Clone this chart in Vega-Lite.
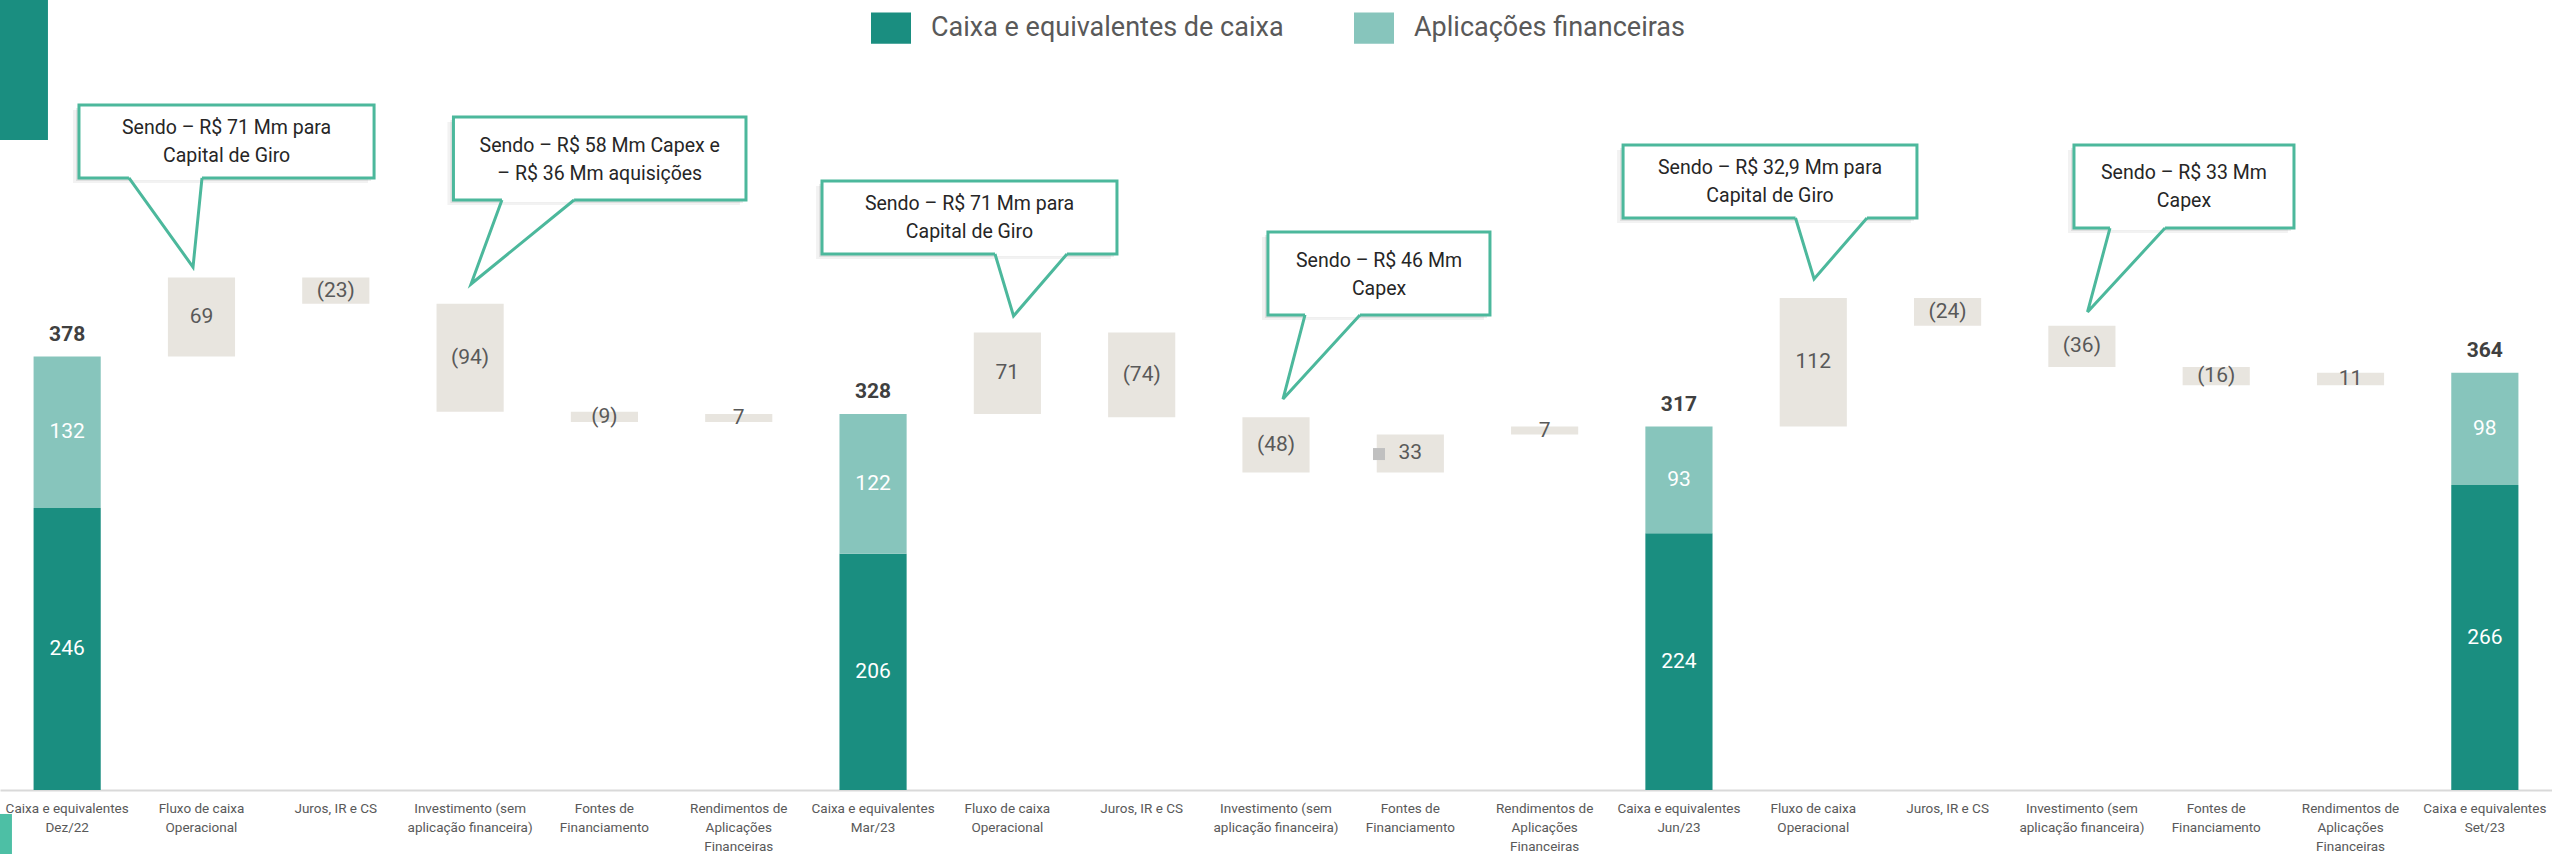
{
  "$schema": "https://vega.github.io/schema/vega-lite/v6.json",
  "width": 2552,
  "height": 790,
  "padding": 0,
  "background": "white",
  "config": {"view": {"stroke": null}, "font": "Roboto", "axisY": {"disable": true}},
  "datasets": {
    "steps": [
      {"i": 1, "k": "t", "lo": 0, "hi": 378, "v": 378},
      {"i": 2, "k": "d", "lo": 378, "hi": 447, "v": 69},
      {"i": 3, "k": "d", "lo": 424, "hi": 447, "v": -23},
      {"i": 4, "k": "d", "lo": 330, "hi": 424, "v": -94},
      {"i": 5, "k": "d", "lo": 321, "hi": 330, "v": -9},
      {"i": 6, "k": "d", "lo": 321, "hi": 328, "v": 7},
      {"i": 7, "k": "t", "lo": 0, "hi": 328, "v": 328},
      {"i": 8, "k": "d", "lo": 328, "hi": 399, "v": 71},
      {"i": 9, "k": "d", "lo": 325, "hi": 399, "v": -74},
      {"i": 10, "k": "d", "lo": 277, "hi": 325, "v": -48},
      {"i": 11, "k": "d", "lo": 277, "hi": 310, "v": 33},
      {"i": 12, "k": "d", "lo": 310, "hi": 317, "v": 7},
      {"i": 13, "k": "t", "lo": 0, "hi": 317, "v": 317},
      {"i": 14, "k": "d", "lo": 317, "hi": 429, "v": 112},
      {"i": 15, "k": "d", "lo": 405, "hi": 429, "v": -24},
      {"i": 16, "k": "d", "lo": 369, "hi": 405, "v": -36},
      {"i": 17, "k": "d", "lo": 353, "hi": 369, "v": -16},
      {"i": 18, "k": "d", "lo": 353, "hi": 364, "v": 11},
      {"i": 19, "k": "t", "lo": 0, "hi": 364, "v": 364}
    ],
    "segs": [
      {"i": 1, "s": "Caixa e equivalentes de caixa", "lo": 0, "hi": 246, "v": 246},
      {"i": 1, "s": "Aplicações financeiras", "lo": 246, "hi": 378, "v": 132},
      {"i": 7, "s": "Caixa e equivalentes de caixa", "lo": 0, "hi": 206, "v": 206},
      {"i": 7, "s": "Aplicações financeiras", "lo": 206, "hi": 328, "v": 122},
      {"i": 13, "s": "Caixa e equivalentes de caixa", "lo": 0, "hi": 224, "v": 224},
      {"i": 13, "s": "Aplicações financeiras", "lo": 224, "hi": 317, "v": 93},
      {"i": 19, "s": "Caixa e equivalentes de caixa", "lo": 0, "hi": 266, "v": 266},
      {"i": 19, "s": "Aplicações financeiras", "lo": 266, "hi": 364, "v": 98}
    ],
    "callouts": [
      {"id": 1, "x1": 0.588, "x2": 2.785, "yt": 597.4, "yb": 533.8, "bx1": 0.96, "bx2": 1.504, "tx": 1.687, "ty": 565, "txt": ["Sendo – R$ 71 Mm para", "Capital de Giro"]},
      {"id": 2, "x1": 3.376, "x2": 5.554, "yt": 587.0, "yb": 514.6, "bx1": 3.737, "bx2": 4.274, "tx": 4.465, "ty": 549.7, "txt": ["Sendo – R$ 58 Mm Capex e", "– R$ 36 Mm aquisições"]},
      {"id": 3, "x1": 6.12, "x2": 8.316, "yt": 531.1, "yb": 467.5, "bx1": 7.408, "bx2": 7.944, "tx": 7.218, "ty": 498.5, "txt": ["Sendo – R$ 71 Mm para", "Capital de Giro"]},
      {"id": 4, "x1": 9.44, "x2": 11.093, "yt": 486.7, "yb": 414.3, "bx1": 9.716, "bx2": 10.125, "tx": 10.267, "ty": 449.5, "txt": ["Sendo – R$ 46 Mm", "Capex"]},
      {"id": 5, "x1": 12.084, "x2": 14.272, "yt": 562.5, "yb": 498.9, "bx1": 13.368, "bx2": 13.9, "tx": 13.178, "ty": 530, "txt": ["Sendo – R$ 32,9 Mm para", "Capital de Giro"]},
      {"id": 6, "x1": 15.441, "x2": 17.079, "yt": 562.5, "yb": 490.1, "bx1": 15.709, "bx2": 16.119, "tx": 16.26, "ty": 525.8, "txt": ["Sendo – R$ 33 Mm", "Capex"]}
    ],
    "pointers": [
      {"id": 1, "o": 1, "px": 0.96, "py": 533.8}, {"id": 1, "o": 2, "px": 1.437, "py": 456.1}, {"id": 1, "o": 3, "px": 1.504, "py": 533.8},
      {"id": 2, "o": 1, "px": 3.737, "py": 514.6}, {"id": 2, "o": 2, "px": 3.507, "py": 441.3}, {"id": 2, "o": 3, "px": 4.274, "py": 514.6},
      {"id": 3, "o": 1, "px": 7.408, "py": 467.5}, {"id": 3, "o": 2, "px": 7.546, "py": 413.4}, {"id": 3, "o": 3, "px": 7.944, "py": 467.5},
      {"id": 4, "o": 1, "px": 9.716, "py": 414.3}, {"id": 4, "o": 2, "px": 9.552, "py": 341.0}, {"id": 4, "o": 3, "px": 10.125, "py": 414.3},
      {"id": 5, "o": 1, "px": 13.368, "py": 498.9}, {"id": 5, "o": 2, "px": 13.506, "py": 445.7}, {"id": 5, "o": 3, "px": 13.9, "py": 498.9},
      {"id": 6, "o": 1, "px": 15.709, "py": 490.1}, {"id": 6, "o": 2, "px": 15.542, "py": 416.9}, {"id": 6, "o": 3, "px": 16.119, "py": 490.1}
    ],
    "deco": [
      {"part": "top", "x1": 0, "x2": 0.357, "y1": 689, "y2": 567},
      {"part": "bottom", "x1": 0, "x2": 0.089, "y1": -20.9, "y2": -56}
    ],
    "marker": [{"mx": 10.267, "my": 293.0}]
  },
  "layer": [
    {
      "encoding": {
        "x": {
          "field": "i", "type": "ordinal",
          "scale": {"domain": [1,2,3,4,5,6,7,8,9,10,11,12,13,14,15,16,17,18,19], "paddingInner": 0.5, "paddingOuter": 0.25},
          "axis": {
            "title": null, "domainColor": "#d9d9d9", "domainWidth": 2, "ticks": false, "labelAngle": 0,
            "labelFont": "Roboto", "labelFontSize": 13.5, "labelColor": "#595959",
            "labelPadding": 11, "labelBaseline": "top", "labelLineHeight": 19, "labelLimit": 300, "labelOverlap": false, "labelBound": false, "labelFlush": false,
            "labelExpr": "[['Caixa e equivalentes','Dez/22'],['Fluxo de caixa','Operacional'],['Juros, IR e CS'],['Investimento (sem','aplicação financeira)'],['Fontes de','Financiamento'],['Rendimentos de','Aplicações','Financeiras'],['Caixa e equivalentes','Mar/23'],['Fluxo de caixa','Operacional'],['Juros, IR e CS'],['Investimento (sem','aplicação financeira)'],['Fontes de','Financiamento'],['Rendimentos de','Aplicações','Financeiras'],['Caixa e equivalentes','Jun/23'],['Fluxo de caixa','Operacional'],['Juros, IR e CS'],['Investimento (sem','aplicação financeira)'],['Fontes de','Financiamento'],['Rendimentos de','Aplicações','Financeiras'],['Caixa e equivalentes','Set/23']][toNumber(datum.value)-1]"
          }
        }
      },
      "layer": [
        {
          "data": {"name": "steps"},
          "transform": [{"filter": "datum.k == 'd'"}],
          "mark": {"type": "bar", "color": "#e8e5df"},
          "encoding": {
            "y": {"field": "lo", "type": "quantitative", "scale": {"domain": [0, 689], "nice": false, "zero": true}},
            "y2": {"field": "hi"}
          }
        },
        {
          "data": {"name": "segs"},
          "mark": {"type": "bar"},
          "encoding": {
            "y": {"field": "lo", "type": "quantitative"},
            "y2": {"field": "hi"},
            "color": {
              "field": "s", "type": "nominal",
              "scale": {"domain": ["Caixa e equivalentes de caixa", "Aplicações financeiras"], "range": ["#1a8e80", "#87c5bc"]},
              "legend": {
                "title": null, "orient": "none", "legendX": 871, "legendY": 8, "direction": "horizontal",
                "labelFont": "Roboto", "labelFontSize": 27, "labelColor": "#595959", "labelOffset": 20,
                "symbolType": "M-1,-0.78H1V0.78H-1Z", "symbolSize": 1600, "symbolStrokeWidth": 0, "symbolOpacity": 1,
                "columnPadding": 70, "padding": 0, "labelLimit": 600
              }
            }
          }
        },
        {
          "data": {"name": "steps"},
          "transform": [{"filter": "datum.k == 'd'"}, {"calculate": "(datum.lo + datum.hi) / 2", "as": "mid"}],
          "mark": {"type": "text", "font": "Roboto", "fontSize": 21, "color": "#595959", "baseline": "middle", "align": "center"},
          "encoding": {
            "y": {"field": "mid", "type": "quantitative"},
            "text": {"field": "v", "type": "quantitative", "format": "(.0f"}
          }
        },
        {
          "data": {"name": "segs"},
          "transform": [{"calculate": "(datum.lo + datum.hi) / 2", "as": "mid"}],
          "mark": {"type": "text", "font": "Roboto", "fontSize": 21, "color": "white", "baseline": "middle", "align": "center"},
          "encoding": {
            "y": {"field": "mid", "type": "quantitative"},
            "text": {"field": "v", "type": "quantitative", "format": ".0f"}
          }
        },
        {
          "data": {"name": "steps"},
          "transform": [{"filter": "datum.k == 't'"}],
          "mark": {"type": "text", "font": "Roboto", "fontSize": 21, "fontWeight": "bold", "color": "#404040", "baseline": "alphabetic", "align": "center", "dy": -16},
          "encoding": {
            "y": {"field": "hi", "type": "quantitative"},
            "text": {"field": "v", "type": "quantitative", "format": ".0f"}
          }
        }
      ]
    },
    {
      "layer": [
        {
          "data": {"name": "deco"},
          "transform": [{"filter": "datum.part == 'top'"}],
          "mark": {"type": "rect", "color": "#1a8e80"},
          "encoding": {
            "x": {"field": "x1", "type": "quantitative", "scale": {"domain": [0, 19], "nice": false, "zero": false}, "axis": null},
            "x2": {"field": "x2"},
            "y": {"field": "y1", "type": "quantitative"},
            "y2": {"field": "y2"}
          }
        },
        {
          "data": {"name": "deco"},
          "transform": [{"filter": "datum.part == 'bottom'"}],
          "mark": {"type": "rect", "color": "#4dbfa5"},
          "encoding": {
            "x": {"field": "x1", "type": "quantitative", "axis": null},
            "x2": {"field": "x2"},
            "y": {"field": "y1", "type": "quantitative"},
            "y2": {"field": "y2"}
          }
        },
        {
          "data": {"name": "callouts"},
          "mark": {"type": "rect", "color": "#000000", "opacity": 0.05, "xOffset": -6, "x2Offset": -6, "yOffset": 5, "y2Offset": 5},
          "encoding": {
            "x": {"field": "x1", "type": "quantitative", "axis": null},
            "x2": {"field": "x2"},
            "y": {"field": "yt", "type": "quantitative"},
            "y2": {"field": "yb"}
          }
        },
        {
          "data": {"name": "callouts"},
          "mark": {"type": "rect", "color": "#000000", "opacity": 0.08, "xOffset": -3, "x2Offset": -3, "yOffset": 3, "y2Offset": 3},
          "encoding": {
            "x": {"field": "x1", "type": "quantitative", "axis": null},
            "x2": {"field": "x2"},
            "y": {"field": "yt", "type": "quantitative"},
            "y2": {"field": "yb"}
          }
        },
        {
          "data": {"name": "callouts"},
          "mark": {"type": "rect", "fill": "white", "stroke": "#4cb89c", "strokeWidth": 3},
          "encoding": {
            "x": {"field": "x1", "type": "quantitative", "axis": null},
            "x2": {"field": "x2"},
            "y": {"field": "yt", "type": "quantitative"},
            "y2": {"field": "yb"}
          }
        },
        {
          "data": {"name": "callouts"},
          "mark": {"type": "rule", "color": "white", "strokeWidth": 5},
          "encoding": {
            "x": {"field": "bx1", "type": "quantitative", "axis": null},
            "x2": {"field": "bx2"},
            "y": {"field": "yb", "type": "quantitative"}
          }
        },
        {
          "data": {"name": "pointers"},
          "mark": {"type": "line", "color": "#4cb89c", "strokeWidth": 3, "strokeJoin": "miter"},
          "encoding": {
            "x": {"field": "px", "type": "quantitative", "axis": null},
            "y": {"field": "py", "type": "quantitative"},
            "detail": {"field": "id", "type": "nominal"},
            "order": {"field": "o", "type": "quantitative"}
          }
        },
        {
          "data": {"name": "callouts"},
          "mark": {"type": "text", "font": "Roboto", "fontSize": 19.5, "color": "#262626", "lineHeight": 28, "align": "center", "baseline": "middle", "dy": -14},
          "encoding": {
            "x": {"field": "tx", "type": "quantitative", "axis": null},
            "y": {"field": "ty", "type": "quantitative"},
            "text": {"field": "txt"}
          }
        },
        {
          "data": {"name": "marker"},
          "mark": {"type": "point", "shape": "square", "filled": true, "color": "#c0c0c0", "size": 144, "opacity": 1},
          "encoding": {
            "x": {"field": "mx", "type": "quantitative", "axis": null},
            "y": {"field": "my", "type": "quantitative"}
          }
        }
      ]
    }
  ],
  "resolve": {"scale": {"x": "independent"}}
}
